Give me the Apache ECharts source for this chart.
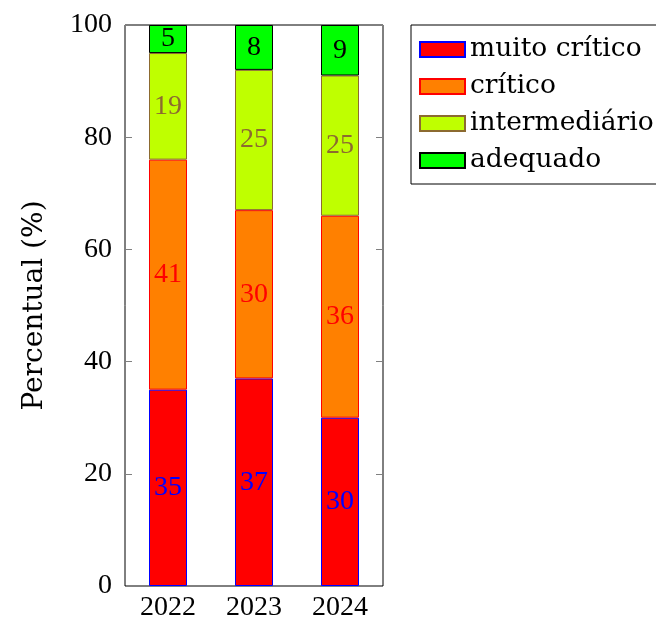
<!DOCTYPE html>
<html>
<head>
<meta charset="utf-8">
<script src="https://cdn.jsdelivr.net/npm/echarts@6/dist/echarts.min.js"></script>
<style>
  html, body { margin: 0; padding: 0; background: #fff; }
  #chart { width: 656px; height: 619px; }
</style>
</head>
<body>
<div id="chart"></div>
<script>
// Anos e percentuais por nível
const years = ['2022', '2023', '2024'];
const muitoCritico = [35, 37, 30];
const critico = [41, 30, 36];
const intermediario = [19, 25, 25];
const adequado = [5, 8, 9];
const yTicks = [0, 20, 40, 60, 80, 100];

const numFont = '"Liberation Serif", serif';
const wordFont = '"DejaVu Serif", serif';

function layer(name, data, fill, edge, textColor) {
  return {
    name: name,
    type: 'bar',
    stack: 'total',
    data: data,
    barWidth: 38,
    itemStyle: { color: fill, borderColor: edge, borderWidth: 1 },
    label: {
      show: true,
      position: 'inside',
      color: textColor,
      fontFamily: numFont,
      fontSize: 28
    }
  };
}

const chart = echarts.init(document.getElementById('chart'), null, { renderer: 'canvas' });
chart.setOption({
  animation: false,
  backgroundColor: '#fff',
  grid: {
    left: 125, top: 25, width: 258, height: 561,
    outerBoundsMode: 'none',
    containLabel: false,
    show: true, borderColor: '#000', borderWidth: 1, backgroundColor: 'transparent'
  },
  legend: {
    orient: 'vertical',
    left: 411,
    top: 25,
    padding: [6, 12, 5, 8],
    itemGap: 0,
    itemWidth: 45,
    itemHeight: 15,
    icon: 'rect',
    borderColor: '#000',
    borderWidth: 1,
    textStyle: { color: '#000', fontFamily: wordFont, fontSize: 26.5, lineHeight: 37 },
    data: ['muito crítico', 'crítico', 'intermediário', 'adequado']
  },
  xAxis: {
    type: 'category',
    data: years,
    axisLine: { show: false },
    axisTick: { show: false },
    axisLabel: { color: '#000', fontFamily: numFont, fontSize: 28, margin: 8 }
  },
  yAxis: [
    {
      type: 'value',
      min: 0, max: 100, interval: 20,
      name: 'Percentual (%)',
      nameLocation: 'middle',
      nameGap: 76,
      nameTextStyle: { color: '#000', fontFamily: wordFont, fontSize: 28 },
      axisLine: { show: false },
      axisTick: { show: true, inside: true, length: 7, lineStyle: { color: '#808080' } },
      splitLine: { show: false },
      axisLabel: {
        color: '#000', fontFamily: numFont, fontSize: 28, margin: 13,
        formatter: v => yTicks.includes(v) ? String(v) : ''
      }
    },
    {
      type: 'value',
      position: 'right',
      min: 0, max: 100, interval: 20,
      axisLine: { show: false },
      axisTick: { show: true, inside: true, length: 7, lineStyle: { color: '#808080' } },
      splitLine: { show: false },
      axisLabel: { show: false }
    }
  ],
  series: [
    layer('muito crítico', muitoCritico, '#ff0000', '#0000ff', '#0000ff'),
    layer('crítico', critico, '#ff8000', '#ff0000', '#ff0000'),
    layer('intermediário', intermediario, '#bfff00', '#8c6a30', '#8c6a30'),
    layer('adequado', adequado, '#00ff00', '#000000', '#000000')
  ]
});
</script>
</body>
</html>
